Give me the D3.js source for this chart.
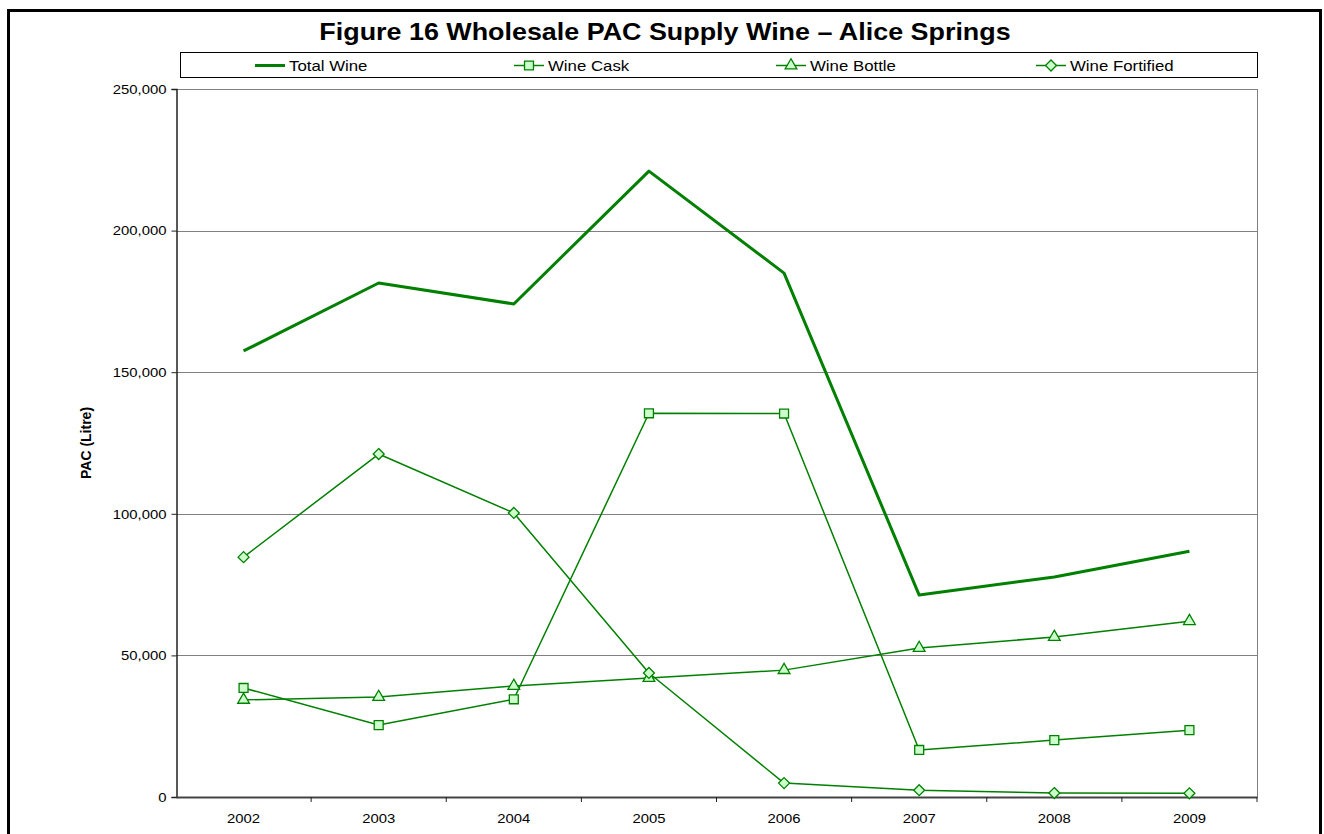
<!DOCTYPE html>
<html>
<head>
<meta charset="utf-8">
<script src="https://cdn.jsdelivr.net/npm/d3@7"></script>
<style>
    body { margin: 0; background: #fff; font-family: "Liberation Sans", Arial, sans-serif; }
    .tick text { font-family: "Liberation Sans", Arial, sans-serif; font-size: 13.5px; fill: #000; }
</style>
</head>
<body>
<div id="Chart_1"></div>
<script>
// data
let years = ["2002", "2003", "2004", "2005", "2006", "2007", "2008", "2009"];
let totalWine = [157500, 181500, 174100, 221000, 185000, 71300, 77700, 86800];
let wineCask = [38500, 25400, 34500, 135500, 135400, 16600, 20100, 23600];
let wineBottle = [34300, 35300, 39200, 42000, 44800, 52600, 56500, 62100];
let wineFortified = [84700, 121100, 100300, 43800, 4900, 2400, 1400, 1300];
let yTicks = [0, 50000, 100000, 150000, 200000, 250000];
let seriesNames = ["Total Wine", "Wine Cask", "Wine Bottle", "Wine Fortified"];

// diamond as a square turned 45 degrees
let diamond = {
    draw: function(context, size) {
        let r = Math.sqrt(size / 2);
        context.moveTo(0, -r);
        context.lineTo(r, 0);
        context.lineTo(0, r);
        context.lineTo(-r, 0);
        context.closePath();
    }
};

let series = [
    {name: seriesNames[0], values: totalWine, marker: null, width: 3},
    {name: seriesNames[1], values: wineCask, marker: d3.symbolSquare, size: 80, width: 1.5},
    {name: seriesNames[2], values: wineBottle, marker: d3.symbolTriangle, size: 60, width: 1.5},
    {name: seriesNames[3], values: wineFortified, marker: diamond, size: 60, width: 1.5}
];

let width = 1324, height = 834;
let margin = {top: 89, right: 67, bottom: 37, left: 176};

// the reference text is a little wider than Liberation Sans
function stretch(sel, k) {
    sel.each(function() {
        let w = this.getComputedTextLength();
        d3.select(this)
            .attr("textLength", w * k)
            .attr("lengthAdjust", "spacingAndGlyphs");
    });
}

let svg = d3.select("#Chart_1")
    .append("svg")
    .attr("width", width)
    .attr("height", height)

// outer frame
svg.append("rect")
    .attr("x", 8.5)
    .attr("y", 10.5)
    .attr("width", 1312)
    .attr("height", 840)
    .attr("fill", "none")
    .attr("stroke", "#000")
    .attr("stroke-width", 3)

let xScale = d3.scaleBand()
    .domain(years)
    .range([margin.left, width - margin.right])
    .padding(0);

let yScale = d3.scaleLinear()
    .domain([0, 250000])
    .range([height - margin.bottom, margin.top]);

// gridlines
svg.append("g")
    .selectAll("line")
    .data(yTicks.slice(1))
    .enter()
    .append("line")
    .attr("x1", margin.left)
    .attr("x2", width - margin.right)
    .attr("y1", (d) => Math.round(yScale(d)) + 0.5)
    .attr("y2", (d) => Math.round(yScale(d)) + 0.5)
    .attr("stroke", "#808080")
    .attr("stroke-width", 1)

// right border of plot
svg.append("line")
    .attr("x1", width - margin.right + 0.5)
    .attr("x2", width - margin.right + 0.5)
    .attr("y1", margin.top)
    .attr("y2", height - margin.bottom)
    .attr("stroke", "#808080")

// y axis
let yAxis = d3.axisLeft()
    .scale(yScale)
    .tickValues(yTicks)
    .tickSize(5)
    .tickPadding(5)
    .tickFormat(d3.format(","));

svg.append("g")
    .attr("transform", "translate(" + (margin.left + 0.5) + ",0)")
    .call(yAxis)
    .call(g => g.select(".domain").attr("stroke", "#222").attr("stroke-width", 1.5))
    .call(g => g.selectAll(".tick line").attr("stroke", "#222"))
    .call(g => stretch(g.selectAll(".tick text"), 1.1))

// x axis: labels centered, ticks at category boundaries
let xAxis = d3.axisBottom()
    .scale(xScale)
    .tickSize(0)
    .tickPadding(16);

let xg = svg.append("g")
    .attr("transform", "translate(0," + (height - margin.bottom) + ")")
    .call(xAxis)
    .call(g => g.select(".domain").attr("stroke", "#444").attr("stroke-width", 2))
    .call(g => stretch(g.selectAll(".tick text"), 1.1))

xg.selectAll(".bound")
    .data(years.slice(1).concat(["end"]))
    .enter()
    .append("line")
    .attr("x1", (d) => d == "end" ? width - margin.right : xScale(d))
    .attr("x2", (d) => d == "end" ? width - margin.right : xScale(d))
    .attr("y1", 0)
    .attr("y2", 5)
    .attr("stroke", "#222")

// y axis title
svg.append("text")
    .text("PAC (Litre)")
    .attr("transform", "translate(91,443) rotate(-90)")
    .attr("text-anchor", "middle")
    .style("font-size", "14px")
    .style("font-weight", "bold")

// chart title
svg.append("text")
    .text("Figure 16 Wholesale PAC Supply Wine \u2013 Alice Springs")
    .attr("x", 665)
    .attr("y", 40)
    .attr("text-anchor", "middle")
    .style("font-size", "24px")
    .style("font-weight", "bold")
    .call(stretch, 1.12)

let line = d3.line()
    .x((d, i) => xScale(years[i]) + xScale.bandwidth() / 2)
    .y((d) => yScale(d));

series.forEach(function(s) {
    svg.append("path")
        .datum(s.values)
        .attr("d", line)
        .attr("fill", "none")
        .attr("stroke", "#008000")
        .attr("stroke-width", s.width)
        .attr("stroke-linejoin", "round")

    if (s.marker) {
        svg.selectAll(null)
            .data(s.values)
            .enter()
            .append("path")
            .attr("d", d3.symbol().type(s.marker).size(s.size))
            .attr("transform", (d, i) => "translate(" + (xScale(years[i]) + xScale.bandwidth() / 2) + "," + yScale(d) + ")")
            .attr("fill", "#ccffcc")
            .attr("stroke", "#008000")
            .attr("stroke-width", 1.3)
    }
});

// legend
svg.append("rect")
    .attr("x", 180.5)
    .attr("y", 52.5)
    .attr("width", 1077)
    .attr("height", 25)
    .attr("fill", "#fff")
    .attr("stroke", "#000")

let legendX = [255, 514, 776, 1036];
series.forEach(function(s, i) {
    let lx = legendX[i];
    svg.append("line")
        .attr("x1", lx)
        .attr("x2", lx + 30)
        .attr("y1", 65.5)
        .attr("y2", 65.5)
        .attr("stroke", "#008000")
        .attr("stroke-width", s.width)
    if (s.marker) {
        svg.append("path")
            .attr("d", d3.symbol().type(s.marker).size(s.size))
            .attr("transform", "translate(" + (lx + 15) + ",65.5)")
            .attr("fill", "#ccffcc")
            .attr("stroke", "#008000")
            .attr("stroke-width", 1.3)
    }
    svg.append("text")
        .text(s.name)
        .attr("x", lx + 34)
        .attr("y", 71)
        .style("font-size", "15px")
        .call(stretch, 1.12)
});
</script>
</body>
</html>
